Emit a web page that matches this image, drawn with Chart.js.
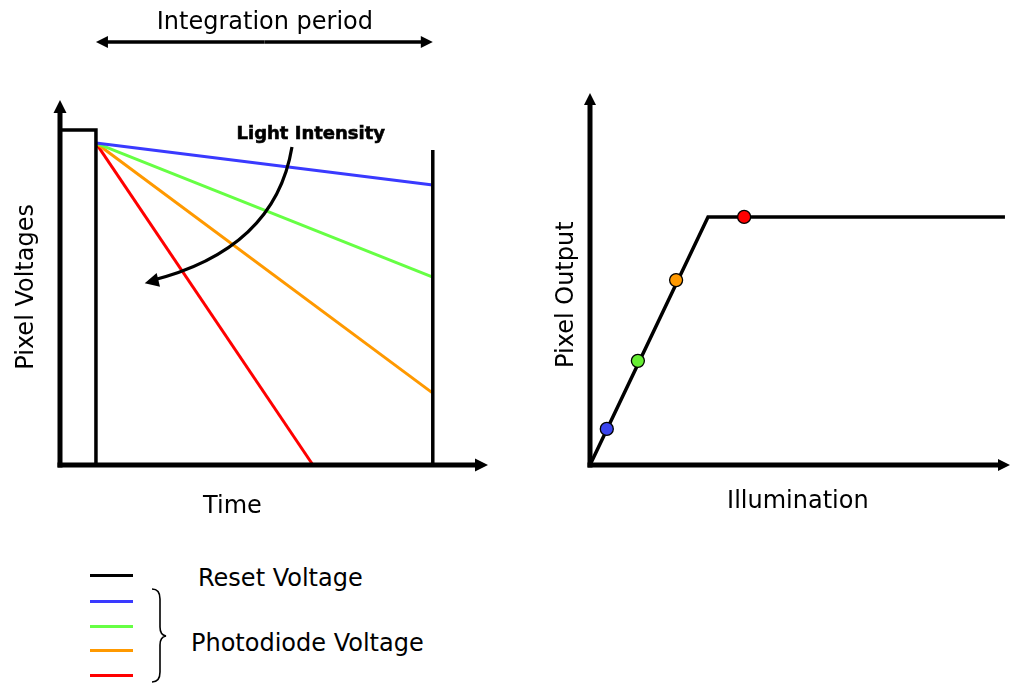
<!DOCTYPE html>
<html>
<head>
<meta charset="utf-8">
<script src="https://cdn.jsdelivr.net/npm/chart.js@4/dist/chart.umd.min.js"></script>
<style>
  body { margin: 0; background: #fff; width: 1011px; height: 683px; position: relative; overflow: hidden; font-family: "DejaVu Sans", sans-serif; }
  canvas { position: absolute; top: 0; }
  #left { left: 0; }
  #right { left: 530px; }
  .key { position: absolute; left: 90px; width: 43px; height: 3px; }
  .label { position: absolute; font-size: 24px; line-height: 24px; color: #000; white-space: nowrap; }
  #brace { position: absolute; left: 140px; top: 580px; }
</style>
</head>
<body>
<canvas id="left" width="520" height="540"></canvas>
<canvas id="right" width="481" height="540"></canvas>

<div class="key" style="top:574px;background:#000"></div>
<div class="key" style="top:600px;background:#3a3aff"></div>
<div class="key" style="top:625px;background:#66ff44"></div>
<div class="key" style="top:649px;background:#ff9900"></div>
<div class="key" style="top:674px;background:#ff0000"></div>
<div class="label" style="left:198px;top:566px">Reset Voltage</div>
<div class="label" style="left:191px;top:631px">Photodiode Voltage</div>
<svg id="brace" width="40" height="110">
  <path d="M12 9 Q20 9 20 19 L20 47 Q20 55 26 56 Q20 57 20 65 L20 92 Q20 102 12 102" fill="none" stroke="#000" stroke-width="1.6"/>
</svg>

<script>
// left chart: pixel voltage against time (axis units 0..10)
const resetX = [0, 0.84, 0.84];
const resetY = [9.18, 9.18, 0];
const integrationEndX = 8.71;
const integrationEndTop = 8.63;
const photoStart = [0.84, 8.82];
const photoEndX = [8.71, 8.71, 8.71, 5.91];
const photoEndY = [7.67, 5.15, 1.97, 0];
const photoColors = ['#3a3aff', '#66ff44', '#ff9900', '#ff0000'];

// right chart: pixel output against illumination
const outputX = [0, 2.81, 9.88];
const outputY = [0, 6.67, 6.67];
const sampleX = [0.40, 1.14, 2.05, 3.67];
const sampleY = [0.97, 2.80, 4.97, 6.67];
const sampleColors = ['#3a44ee', '#66ee33', '#ff9900', '#ff0000'];

const FONT = '24px "DejaVu Sans", sans-serif';

function head(ctx, x, y, ang, len, half) {
  ctx.save();
  ctx.translate(x, y);
  ctx.rotate(ang);
  ctx.beginPath();
  ctx.moveTo(0, 0);
  ctx.lineTo(-len, -half);
  ctx.lineTo(-len, half);
  ctx.closePath();
  ctx.fill();
  ctx.restore();
}

function arrow(ctx, x1, y1, x2, y2, w, len, half) {
  const ang = Math.atan2(y2 - y1, x2 - x1);
  ctx.lineWidth = w;
  ctx.beginPath();
  ctx.moveTo(x1, y1);
  ctx.lineTo(x2 - Math.cos(ang) * len * 0.8, y2 - Math.sin(ang) * len * 0.8);
  ctx.stroke();
  head(ctx, x2, y2, ang, len, half);
}

function pts(xs, ys) {
  return xs.map((x, i) => ({ x: x, y: ys[i] }));
}

function baseOptions(pad) {
  return {
    responsive: false,
    animation: false,
    layout: { padding: pad, autoPadding: false },
    plugins: { legend: { display: false }, tooltip: { enabled: false } },
    scales: {
      x: { type: 'linear', display: false, min: 0, max: 10 },
      y: { type: 'linear', display: false, min: 0, max: 10 }
    }
  };
}

const leftDecor = {
  id: 'leftDecor',
  afterDatasetsDraw(chart) {
    const ctx = chart.ctx, xs = chart.scales.x, ys = chart.scales.y;
    const px = v => xs.getPixelForValue(v), py = v => ys.getPixelForValue(v);
    ctx.save();
    ctx.fillStyle = '#000';
    ctx.strokeStyle = '#000';
    ctx.lineCap = 'butt';
    // axes
    arrow(ctx, px(0), py(0) + 2.5, px(0), py(10), 5, 13, 6.5);
    arrow(ctx, px(0) - 2.5, py(0), px(10), py(0), 5, 13, 6.5);
    // integration period double arrow
    const ay = py(11.59);
    const mid = (px(resetX[1]) + px(integrationEndX)) / 2;
    arrow(ctx, mid, ay, px(integrationEndX), ay, 3.5, 12, 6);
    arrow(ctx, mid, ay, px(resetX[1]), ay, 3.5, 12, 6);
    // light intensity curved arrow
    const s = [px(5.42), py(8.71)], c = [px(5.02), py(5.89)], e = [px(2.10), py(5.04)];
    ctx.lineWidth = 3.2;
    ctx.beginPath();
    ctx.moveTo(s[0], s[1]);
    ctx.quadraticCurveTo(c[0], c[1], e[0], e[1]);
    ctx.stroke();
    head(ctx, px(1.98), py(4.98), Math.atan2(e[1] - c[1], e[0] - c[0]), 14, 7);
    // texts
    ctx.font = FONT;
    ctx.textAlign = 'center';
    ctx.textBaseline = 'alphabetic';
    ctx.fillText('Integration period', mid + 0.5, ay - 13);
    ctx.fillText('Time', px(4.03), py(0) + 48);
    ctx.font = 'bold 18px "DejaVu Sans", sans-serif';
    ctx.fillText('Light Intensity', px(5.86), py(8.92));
    ctx.lineWidth = 0.6;
    ctx.strokeText('Light Intensity', px(5.86), py(8.92));
    ctx.font = FONT;
    ctx.translate(33, py(4.88));
    ctx.rotate(-Math.PI / 2);
    ctx.fillText('Pixel Voltages', 0, 0);
    ctx.restore();
  }
};

const rightDecor = {
  id: 'rightDecor',
  beforeDatasetsDraw(chart) {
    const ctx = chart.ctx, xs = chart.scales.x, ys = chart.scales.y;
    const px = v => xs.getPixelForValue(v), py = v => ys.getPixelForValue(v);
    ctx.save();
    ctx.fillStyle = '#000';
    ctx.strokeStyle = '#000';
    arrow(ctx, px(0), py(0) + 2.5, px(0), py(10), 5, 12, 6);
    arrow(ctx, px(0) - 2.5, py(0), px(10), py(0), 5, 12, 6);
    ctx.font = FONT;
    ctx.textAlign = 'center';
    ctx.textBaseline = 'alphabetic';
    ctx.fillText('Illumination', px(4.95), py(0) + 43);
    ctx.translate(px(0) - 17, py(4.58));
    ctx.rotate(-Math.PI / 2);
    ctx.fillText('Pixel Output', 0, 0);
    ctx.restore();
  }
};

const lineStyle = { showLine: true, fill: false, pointRadius: 0, pointHoverRadius: 0, borderCapStyle: 'butt', borderJoinStyle: 'miter', clip: false, tension: 0 };

const leftDatasets = [
  Object.assign({ data: pts(resetX, resetY), borderColor: '#000', borderWidth: 3.5 }, lineStyle),
  Object.assign({ data: pts([integrationEndX, integrationEndX], [0, integrationEndTop]), borderColor: '#000', borderWidth: 3.5 }, lineStyle)
];
photoEndX.forEach((x, i) => {
  leftDatasets.push(Object.assign({
    data: [{ x: photoStart[0], y: photoStart[1] }, { x: x, y: photoEndY[i] }],
    borderColor: photoColors[i], borderWidth: 3
  }, lineStyle));
});

new Chart(document.getElementById('left'), {
  type: 'scatter',
  data: { datasets: leftDatasets },
  options: baseOptions({ left: 60, top: 100, right: 32, bottom: 75 }),
  plugins: [leftDecor]
});

new Chart(document.getElementById('right'), {
  type: 'scatter',
  data: {
    datasets: [
      {
        data: pts(sampleX, sampleY), order: 0, clip: false,
        pointRadius: 6.5, pointBackgroundColor: sampleColors, pointBorderColor: '#000', pointBorderWidth: 1.3
      },
      Object.assign({ data: pts(outputX, outputY), order: 1, borderColor: '#000', borderWidth: 3.5 }, lineStyle)
    ]
  },
  options: baseOptions({ left: 60, top: 93, right: 1, bottom: 75 }),
  plugins: [rightDecor]
});
</script>
</body>
</html>
